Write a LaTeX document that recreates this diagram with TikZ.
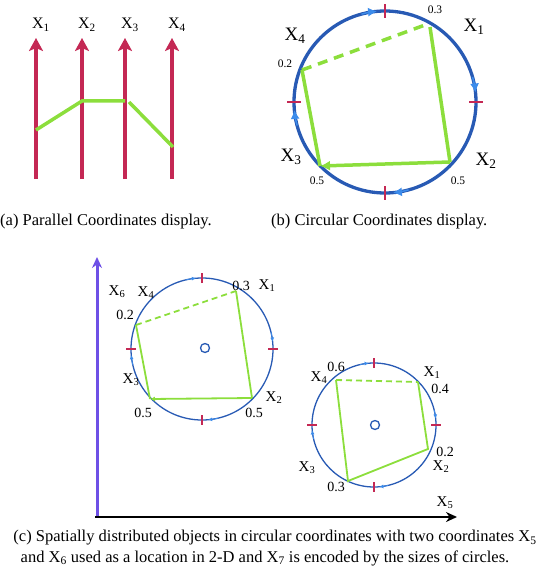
\documentclass[tikz,border=0pt]{standalone}
\usepackage{fontspec}
\setmainfont{Liberation Serif}
\usetikzlibrary{arrows.meta}
\definecolor{axred}{RGB}{196,40,84}
\definecolor{lgreen}{RGB}{140,222,60}
\definecolor{cblue}{RGB}{40,90,180}
\definecolor{ablue}{RGB}{60,140,235}
\definecolor{purp}{RGB}{110,80,230}
\newcommand{\Xs}[1]{X\textsubscript{#1}}
\begin{document}
\begin{tikzpicture}[x=1pt,y=-1pt,
  paxis/.style={axred,line width=3.6pt,-{Stealth[length=13pt,width=14pt,inset=3pt]}},
  gline/.style={lgreen,line width=3.5pt},
  gthin/.style={lgreen,line width=1.8pt},
  tickb/.style={axred,line width=2.8pt},
  tickc/.style={axred,line width=1.3pt},
  xlab/.style={font=\fontsize{16}{16}\selectfont,inner sep=0pt},
  xlabb/.style={font=\fontsize{19}{19}\selectfont,inner sep=0pt},
  xlabc/.style={font=\fontsize{15}{15}\selectfont,inner sep=0pt},
  numb/.style={font=\fontsize{11.5}{11.5}\selectfont,inner sep=0pt},
  numc/.style={font=\fontsize{14}{14}\selectfont,inner sep=0pt},
  captxt/.style={font=\fontsize{16.5}{16.5}\selectfont,inner sep=0pt},
]
\useasboundingbox (0,0) rectangle (544,575);

% ---------- (a) parallel coordinates
\foreach \i/\x in {1/36,2/82,3/125,4/172}{
  \coordinate (ab\i) at (\x,179);
  \coordinate (at\i) at (\x,38);
  \draw[paxis] (ab\i) -- (at\i);
  \node[xlab] (al\i) at (\x+5,25) {\Xs{\i}};
}
\coordinate (p1) at (36,130);
\coordinate (p2) at (82,101);
\coordinate (p3) at (125,101);
\coordinate (p3b) at (129,102);
\coordinate (p4) at (173,147);
\draw[gline] (p1) -- (p2) -- (p3);
\draw[gline] (p3b) -- (p4);
\node[captxt,anchor=west] (capa) at (0,222) {(a) Parallel Coordinates display.};

% ---------- (b) circular coordinates
\coordinate (cb) at (385,102);
\draw[cblue,line width=3.3pt] (cb) circle[radius=91];
\foreach \a in {-95,-6,85,175}{
  \draw[ablue,line width=1.5pt,-{Latex[length=9pt,width=9pt]}] ([shift={(\a-10:91)}]cb) arc[start angle=\a-10,end angle=\a,radius=91];
}
\foreach \a in {0,90,180,270}{
  \draw[tickb] ([shift={(\a:84)}]cb) -- ([shift={(\a:98)}]cb);
}
\coordinate (b1) at (430,27);
\coordinate (b2) at (450,162);
\coordinate (b3) at (320,166);
\coordinate (b4) at (302,70);
\coordinate (b1d) at (425,25);
\draw[gline] (b1) -- (b2);
\draw[gline,-{Latex[length=10pt,width=10pt]}] (b2) -- (b3);
\draw[gline] (b3) -- (b4);
\draw[gline,dash pattern=on 10pt off 7pt] (b4) -- (b1d);
\node[numb] (n03) at (435,10) {0.3};
\node[xlabb] (bx1) at (474,27) {\Xs{1}};
\node[xlabb] (bx4) at (295,36) {\Xs{4}};
\node[numb] (n02) at (285,64) {0.2};
\node[xlabb] (bx3) at (291,157) {\Xs{3}};
\node[numb] (n05a) at (317,181) {0.5};
\node[numb] (n05b) at (458,181) {0.5};
\node[xlabb] (bx2) at (486,161) {\Xs{2}};
\node[captxt,anchor=west] (capb) at (271,222) {(b) Circular Coordinates display.};

% ---------- (c) spatial axes
\coordinate (o) at (97,517);
\coordinate (ytop) at (97,257);
\coordinate (xend) at (457,517);
\draw[purp,line width=3pt,-{Stealth[length=11pt,width=10pt]}] ([yshift=1pt]o) -- (ytop);
\draw[black,line width=2.2pt,-{Stealth[length=11pt,width=10pt]}] ([xshift=-2pt]o) -- (xend);
\node[xlabc] (x5) at (445,503) {\Xs{5}};
\node[xlabc] (x6) at (117,292) {\Xs{6}};

% circle 1
\coordinate (c1) at (202,349);
\draw[cblue,line width=1.3pt] (c1) circle[radius=71];
\draw[cblue,line width=1.3pt] (205,348) circle[radius=4.5];
\foreach \a in {0,90,180,270}{
  \draw[tickc] ([shift={(\a:66)}]c1) -- ([shift={(\a:76)}]c1);
}
\foreach \a in {-95,-6,85,175}{
  \draw[ablue,line width=0.8pt,-{Latex[length=4pt,width=4pt]}] ([shift={(\a-8:71)}]c1) arc[start angle=\a-8,end angle=\a,radius=71];
}
\coordinate (q1) at (236,291);
\coordinate (q2) at (252,398);
\coordinate (q3) at (150,399);
\coordinate (q4) at (136,325);
\draw[gthin] (q1) -- (q2);
\draw[gthin,-{Latex[length=5pt,width=5pt]}] (q2) -- (q3);
\draw[gthin] (q3) -- (q4);
\draw[gthin,dash pattern=on 6pt off 4pt] (q4) -- (q1);
\node[numc] (m03) at (241,286) {0.3};
\node[xlabc] (cx1) at (267,286) {\Xs{1}};
\node[xlabc] (cx4) at (146,293) {\Xs{4}};
\node[numc] (m02) at (125,315) {0.2};
\node[xlabc] (cx3) at (131,380) {\Xs{3}};
\node[numc] (m05a) at (143,413) {0.5};
\node[numc] (m05b) at (254,413) {0.5};
\node[xlabc] (cx2) at (274,398) {\Xs{2}};

% circle 2
\coordinate (c2) at (374,425);
\draw[cblue,line width=1.3pt] (c2) circle[radius=62];
\draw[cblue,line width=1.3pt] (375,425) circle[radius=4.5];
\foreach \a in {0,90,180,270}{
  \draw[tickc] ([shift={(\a:57)}]c2) -- ([shift={(\a:67)}]c2);
}
\foreach \a in {-95,-6,85,175}{
  \draw[ablue,line width=0.8pt,-{Latex[length=4pt,width=4pt]}] ([shift={(\a-8:62)}]c2) arc[start angle=\a-8,end angle=\a,radius=62];
}
\coordinate (r1) at (418,382);
\coordinate (r2) at (428,449);
\coordinate (r3) at (348,481);
\coordinate (r4) at (336,380);
\draw[gthin] (r1) -- (r2) -- (r3) -- (r4);
\draw[gthin,dash pattern=on 6pt off 4pt] (r4) -- (r1);
\node[numc] (k06) at (336,367) {0.6};
\node[xlabc] (dx4) at (319,378) {\Xs{4}};
\node[xlabc] (dx1) at (432,373) {\Xs{1}};
\node[numc] (k04) at (440,389) {0.4};
\node[numc] (k02) at (445,452) {0.2};
\node[xlabc] (dx2) at (441,467) {\Xs{2}};
\node[xlabc] (dx3) at (307,468) {\Xs{3}};
\node[numc] (k03) at (336,487) {0.3};

\node[captxt] (capc1) at (275,538) {(c) Spatially distributed objects in circular coordinates with two coordinates \Xs{5}};
\node[captxt] (capc2) at (265,558) {and \Xs{6} used as a location in 2-D and \Xs{7} is encoded by the sizes of circles.};
\end{tikzpicture}
\end{document}
